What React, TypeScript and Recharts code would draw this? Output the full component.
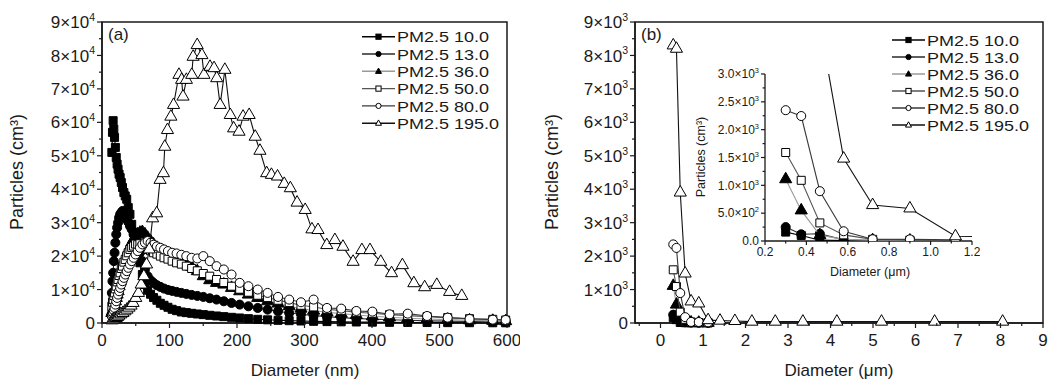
import React from 'react';
import { ScatterChart, Scatter, XAxis, YAxis, ZAxis, ReferenceArea } from 'recharts';

const FONT = '"Liberation Sans", Arial, Helvetica, sans-serif';
const INK = '#1a1a1a';

const seriesNames = ['PM2.5 10.0', 'PM2.5 13.0', 'PM2.5 36.0', 'PM2.5 50.0', 'PM2.5 80.0', 'PM2.5 195.0'];

// (a) SMPS size bins (nm) and number concentrations
const diamA = [
  14.6, 15.5, 16.5, 17.5, 18.6, 19.8, 21.1, 22.4, 23.8, 25.3,
  26.9, 28.6, 30.4, 32.4, 34.4, 36.6, 38.9, 41.4, 44.0, 46.8,
  49.7, 52.9, 56.2, 59.8, 63.6, 67.6, 71.9, 76.4, 81.3, 86.4,
  91.9, 97.7, 103.9, 110.5, 117.5, 124.9, 132.8, 141.2, 150.1, 159.6,
  169.7, 180.5, 191.9, 204.0, 216.9, 230.7, 245.3, 260.8, 277.3, 294.8,
  313.5, 333.3, 354.4, 376.8, 400.6, 426.0, 452.9, 481.6, 512.1, 544.5,
  578.9, 598.0,
];
const pm10A = [
  51000, 57000, 60500, 58000, 55500, 52500, 49500, 47500, 46000, 44500,
  43500, 42000, 40500, 39000, 38000, 37000, 34500, 32500, 29500, 27000,
  24500, 21500, 18000, 14500, 11500, 9800, 8600, 7600, 6800, 5900,
  5300, 4700, 4100, 3700, 3300, 3100, 2900, 2700, 2500, 2300,
  2100, 1900, 1700, 1500, 1300, 1100, 950, 800, 700, 600,
  500, 420, 350, 300, 250, 200, 170, 140, 110, 90,
  70, 60,
];
const pm13A = [
  9000, 12500, 15000, 18500, 21000, 24000, 26500, 28500, 30000, 31500,
  32500, 33000, 33500, 32800, 32000, 31000, 30200, 29000, 28000, 26500,
  25000, 23000, 21000, 18500, 16000, 14000, 12800, 12000, 11300, 10800,
  10300, 9900, 9600, 9300, 9000, 8700, 8400, 8100, 7800, 7400,
  7000, 6500, 6000, 5500, 5000, 4500, 4000, 3500, 3000, 2600,
  2200, 1900, 1600, 1350, 1150, 950, 800, 650, 550, 450,
  350, 300,
];
const pm36A = [
  3000, 3500, 4000, 4800, 5500, 6500, 7500, 8500, 9500, 11000,
  12500, 14000, 15500, 17000, 18500, 20000, 21500, 22800, 24000, 25000,
  25800, 26500, 27000, 27200, 26500, 25500, 24500, 23500, 22500, 21800,
  21000, 20500, 20000, 19200, 18500, 17800, 16800, 15500, 14000, 12800,
  12000, 11500, 10500, 9500, 8500, 7500, 6500, 5800, 5000, 4300,
  3700, 3200, 2800, 2400, 2000, 1700, 1400, 1200, 1000, 800,
  650, 550,
];
const pm50A = [
  5000, 6200, 7000, 8200, 9000, 10200, 11000, 12300, 13000, 14200,
  15000, 16300, 17000, 18200, 19000, 20100, 21000, 22000, 22600, 23000,
  23600, 23400, 23700, 23000, 22600, 22000, 21600, 21000, 20600, 20000,
  19500, 19100, 18500, 18000, 17600, 17000, 16300, 15600, 14800, 14000,
  13000, 12100, 11000, 10100, 9200, 8300, 7600, 6800, 6100, 5300,
  4800, 4100, 3700, 3200, 2900, 2500, 2200, 1900, 1600, 1300,
  1100, 900,
];
const pm80A = [
  2000, 2500, 3000, 3800, 4500, 5500, 6500, 7500, 8500, 9500,
  10500, 11500, 12500, 13500, 14500, 15500, 16500, 17500, 18500, 19500,
  20500, 21500, 22500, 23500, 24000, 24500, 24000, 23400, 22900, 22500,
  22000, 21500, 21000, 20800, 20400, 20000, 19500, 19300, 20000, 18500,
  17000, 16000, 14500, 12000, 11000, 10000, 9000, 7800, 7000, 6200,
  7000, 4500, 4300, 3600, 3400, 2600, 2800, 2100, 1600, 1200,
  1000, 900,
];
const diam195A = [
  15, 17, 19, 21, 23, 25, 28, 31, 34, 37, 40, 43, 46, 50, 54, 58, 62, 66, 70,
  75, 81, 86, 91, 93, 97, 102, 106, 114, 118, 120, 125, 133, 135, 141, 148, 151,
  160, 166, 170, 175, 182, 190, 195, 203, 209, 218, 227, 234, 244, 251, 260, 270,
  279, 289, 301, 311, 320, 333, 345, 357, 372, 385, 397, 413, 429, 445, 462, 478,
  496, 515, 533,
];
const pm195A = [
  800, 1000, 1300, 1500, 1800, 2200, 2600, 3000, 3500, 4000, 4600, 5200, 6000, 7500, 9000, 11500, 14000, 17500, 22000,
  31300, 32800, 42800, 44800, 52700, 57700, 61700, 65200, 74200, 72700, 67700, 72700, 74200, 79600, 83100, 80100, 74200,
  76600, 76200, 73200, 65200, 75700, 62200, 58200, 57200, 61700, 62200, 55700, 51500, 44800, 44300, 43800, 41600,
  40300, 36000, 33800, 28000, 27800, 23300, 24800, 22800, 18300, 21800, 21800, 18300, 14900, 17300, 11900, 10700,
  11400, 9300, 8100,
];

// (b) OPC size bins (um) and number concentrations
const diamB = [0.3, 0.375, 0.465, 0.58, 0.72, 0.9, 1.12, 1.4, 1.75, 2.15, 2.7, 3.35, 4.15, 5.2, 6.45, 8.05];
const pm10B = [160, 100, 15, 8, 5, 3, 2];
const pm13B = [250, 120, 130, 20, 10, 5, 3];
const pm36B = [1110, 550, 105, 30, 15, 8, 5];
const pm50B = [1590, 1090, 325, 110, 30, 15, 10];
const pm80B = [2350, 2245, 895, 175, 32, 30, 20];
const pm195B = [8300, 8200, 3900, 1480, 645, 585, 85, 70, 60, 40, 40, 40, 40, 40, 40, 40];

const ticksAX = [0, 50, 100, 150, 200, 250, 300, 350, 400, 450, 500, 550, 600];
const ticksAY = [0, 5000, 10000, 15000, 20000, 25000, 30000, 35000, 40000, 45000, 50000, 55000, 60000, 65000, 70000, 75000, 80000, 85000, 90000];
const ticksBX = [-0.5, 0, 0.5, 1, 1.5, 2, 2.5, 3, 3.5, 4, 4.5, 5, 5.5, 6, 6.5, 7, 7.5, 8, 8.5, 9];
const ticksBY = [0, 500, 1000, 1500, 2000, 2500, 3000, 3500, 4000, 4500, 5000, 5500, 6000, 6500, 7000, 7500, 8000, 8500, 9000];
const ticksInX = [0.2, 0.3, 0.4, 0.5, 0.6, 0.7, 0.8, 0.9, 1.0, 1.1, 1.2];
const ticksInY = [0, 250, 500, 750, 1000, 1250, 1500, 1750, 2000, 2250, 2500, 2750, 3000];

const toPts = (xs: number[], ys: number[]) => ys.map((y, i) => ({ x: xs[i], y }));

const seriesA = [
  toPts(diamA, pm10A), toPts(diamA, pm13A), toPts(diamA, pm36A),
  toPts(diamA, pm50A), toPts(diamA, pm80A), toPts(diam195A, pm195A),
];
const seriesB = [
  toPts(diamB, pm10B), toPts(diamB, pm13B), toPts(diamB, pm36B),
  toPts(diamB, pm50B), toPts(diamB, pm80B), toPts(diamB, pm195B),
];

type Shape = 'square' | 'circle' | 'triangle';
const STYLES: { shape: Shape; fill: string; line: string }[] = [
  { shape: 'square', fill: '#000', line: '#000' },
  { shape: 'circle', fill: '#000', line: '#2a2a2a' },
  { shape: 'triangle', fill: '#000', line: '#9a9a9a' },
  { shape: 'square', fill: '#fff', line: '#555' },
  { shape: 'circle', fill: '#fff', line: '#3a3a3a' },
  { shape: 'triangle', fill: '#fff', line: '#111' },
];

const sup = (label: string, exp: string, fs: number) => (
  <>
    {label}
    <tspan dy={-fs * 0.42} fontSize={fs * 0.62}>{exp}</tspan>
  </>
);

const makeXTick = (isMajor: (v: number) => boolean, fmt: (v: number) => string, fs: number, len: number, dy: number) =>
  (p: any) => {
    const { x, y, payload } = p;
    const v = payload.value;
    const m = isMajor(v);
    return (
      <g>
        <line x1={x} y1={y} x2={x} y2={y + (m ? len : len * 0.6)} stroke={INK} strokeWidth={1.2} />
        {m && (
          <text x={x} y={y + dy} textAnchor="middle" fontSize={fs} fontFamily={FONT} fill={INK}>{fmt(v)}</text>
        )}
      </g>
    );
  };

const makeYTick = (isMajor: (v: number) => boolean, fmt: (v: number) => React.ReactNode, fs: number, len: number, gap: number) =>
  (p: any) => {
    const { x, y, payload } = p;
    const v = payload.value;
    const m = isMajor(v);
    return (
      <g>
        <line x1={x} y1={y} x2={x - (m ? len : len * 0.6)} y2={y} stroke={INK} strokeWidth={1.2} />
        {m && (
          <text x={x - len - gap} y={y + fs * 0.36} textAnchor="end" fontSize={fs} fontFamily={FONT} fill={INK}>{fmt(v)}</text>
        )}
      </g>
    );
  };

const xTickA = makeXTick((v) => v % 100 === 0, (v) => String(v), 17, 5, 23);
const yTickA = makeYTick((v) => v % 10000 === 0, (v) => (v === 0 ? '0' : sup(`${v / 10000}×10`, '4', 17)), 17, 5, 2);
const xTickB = makeXTick((v) => Number.isInteger(v), (v) => String(v), 17, 5, 23);
const yTickB = makeYTick((v) => v % 1000 === 0, (v) => (v === 0 ? '0' : sup(`${v / 1000}×10`, '3', 17)), 17, 5, 2);
const xTickIn = makeXTick((v) => Math.round(v * 10) % 2 === 0, (v) => v.toFixed(1), 12, 4, 15);
const yTickIn = makeYTick(
  (v) => v % 500 === 0,
  (v) => (v === 0 ? '0.0' : v < 1000 ? sup(`${(v / 100).toFixed(1)}×10`, '2', 12) : sup(`${(v / 1000).toFixed(1)}×10`, '3', 12)),
  12,
  4,
  2,
);

const renderSeries = (data: { x: number; y: number }[][]) =>
  data.map((pts, i) => (
    <Scatter
      key={seriesNames[i]}
      name={seriesNames[i]}
      data={pts}
      shape={STYLES[i].shape}
      fill={STYLES[i].fill}
      stroke="#000"
      strokeWidth={1}
      line={{ stroke: STYLES[i].line, strokeWidth: 1.1 }}
      isAnimationActive={false}
    />
  ));

const Marker = ({ kind, cx, cy, r, fill }: { kind: Shape; cx: number; cy: number; r: number; fill: string }) => {
  if (kind === 'square') return <rect x={cx - r} y={cy - r} width={2 * r} height={2 * r} fill={fill} stroke="#000" />;
  if (kind === 'circle') return <circle cx={cx} cy={cy} r={r} fill={fill} stroke="#000" />;
  return (
    <polygon
      points={`${cx},${cy - r * 1.25} ${cx - r * 1.15},${cy + r * 0.8} ${cx + r * 1.15},${cy + r * 0.8}`}
      fill={fill}
      stroke="#000"
    />
  );
};

// legend text is set a little squat and wide, as in the source figure
const LegendSvg = ({ x, y, step }: { x: number; y: number; step: number }) => (
  <g>
    {seriesNames.map((name, i) => {
      const cy = y + i * step;
      return (
        <g key={name}>
          <line x1={x} y1={cy} x2={x + 33} y2={cy} stroke={STYLES[i].line} strokeWidth={1.4} />
          <Marker kind={STYLES[i].shape} cx={x + 16.5} cy={cy} r={2.6} fill={STYLES[i].fill} />
          <text
            transform={`translate(${x + 35}, ${cy + 5.6}) scale(1.2, 1)`}
            fontSize={15}
            fontFamily={FONT}
            fill={INK}
          >
            {name}
          </text>
        </g>
      );
    })}
  </g>
);

export default function App() {
  return (
    <div style={{ position: 'absolute', left: 0, top: 0, width: 1051, height: 380, background: '#fff', overflow: 'hidden' }}>
      <div style={{ position: 'absolute', left: 0, top: 0 }}>
        <ScatterChart width={520} height={380} margin={{ top: 22, right: 13, bottom: 0, left: 0 }}>
          <XAxis
            type="number"
            dataKey="x"
            domain={[0, 600]}
            ticks={ticksAX}
            interval={0}
            height={57}
            tickSize={0}
            tickMargin={0}
            tickLine={false}
            tick={xTickA}
            axisLine={{ stroke: INK, strokeWidth: 1.5 }}
          />
          <YAxis
            type="number"
            dataKey="y"
            domain={[0, 90000]}
            ticks={ticksAY}
            interval={0}
            width={102}
            tickSize={0}
            tickMargin={0}
            tickLine={false}
            tick={yTickA}
            axisLine={{ stroke: INK, strokeWidth: 1.5 }}
          />
          <ZAxis range={[44, 44]} />
          <ReferenceArea x1={0} x2={600} y1={0} y2={90000} fill="none" stroke={INK} strokeWidth={1.5} />
          {renderSeries(seriesA)}
        </ScatterChart>
      </div>

      <div style={{ position: 'absolute', left: 520, top: 0 }}>
        <ScatterChart width={531} height={380} margin={{ top: 22, right: 8, bottom: 0, left: 0 }}>
          <XAxis
            type="number"
            dataKey="x"
            domain={[-0.6, 9]}
            ticks={ticksBX}
            interval={0}
            height={57}
            tickSize={0}
            tickMargin={0}
            tickLine={false}
            tick={xTickB}
            axisLine={{ stroke: INK, strokeWidth: 1.5 }}
          />
          <YAxis
            type="number"
            dataKey="y"
            domain={[0, 9000]}
            ticks={ticksBY}
            interval={0}
            width={115}
            tickSize={0}
            tickMargin={0}
            tickLine={false}
            tick={yTickB}
            axisLine={{ stroke: INK, strokeWidth: 1.5 }}
          />
          <ZAxis range={[36, 36]} />
          <ReferenceArea x1={-0.6} x2={9} y1={0} y2={9000} fill="none" stroke={INK} strokeWidth={1.5} />
          {renderSeries(seriesB)}
        </ScatterChart>
      </div>

      <div style={{ position: 'absolute', left: 700, top: 60 }}>
        <ScatterChart width={280} height={200} margin={{ top: 14, right: 8, bottom: 0, left: 0 }}>
          <XAxis
            type="number"
            dataKey="x"
            domain={[0.2, 1.2]}
            allowDataOverflow
            ticks={ticksInX}
            interval={0}
            height={19}
            tickSize={0}
            tickMargin={0}
            tickLine={false}
            tick={xTickIn}
            axisLine={{ stroke: INK, strokeWidth: 1.3 }}
          />
          <YAxis
            type="number"
            dataKey="y"
            domain={[0, 3000]}
            allowDataOverflow
            ticks={ticksInY}
            interval={0}
            width={65}
            tickSize={0}
            tickMargin={0}
            tickLine={false}
            tick={yTickIn}
            axisLine={{ stroke: INK, strokeWidth: 1.3 }}
          />
          <ZAxis range={[36, 36]} />
          {renderSeries(seriesB)}
        </ScatterChart>
      </div>

      <svg width={1051} height={380} style={{ position: 'absolute', left: 0, top: 0, pointerEvents: 'none' }}>
        <text x={108} y={39.5} fontSize={17} fontFamily={FONT} fill={INK}>(a)</text>
        <text x={641} y={39.5} fontSize={17} fontFamily={FONT} fill={INK}>(b)</text>
        <LegendSvg x={362} y={36.7} step={17.3} />
        <LegendSvg x={892} y={40} step={17} />
        <text x={17} y={172} fontSize={18} fontFamily={FONT} fill={INK} textAnchor="middle" dominantBaseline="central" transform="rotate(-90, 17, 172)">Particles (cm³)</text>
        <text x={552} y={172} fontSize={18} fontFamily={FONT} fill={INK} textAnchor="middle" dominantBaseline="central" transform="rotate(-90, 552, 172)">Particles (cm³)</text>
        <text x={305} y={376} fontSize={17} fontFamily={FONT} fill={INK} textAnchor="middle">Diameter (nm)</text>
        <text x={839} y={376} fontSize={17} fontFamily={FONT} fill={INK} textAnchor="middle">Diameter (μm)</text>
        <text x={701} y={157} fontSize={12.5} fontFamily={FONT} fill={INK} textAnchor="middle" dominantBaseline="central" transform="rotate(-90, 701, 157)">Particles (cm³)</text>
        <text x={870} y={276} fontSize={12.5} fontFamily={FONT} fill={INK} textAnchor="middle">Diameter (μm)</text>
      </svg>
    </div>
  );
}
